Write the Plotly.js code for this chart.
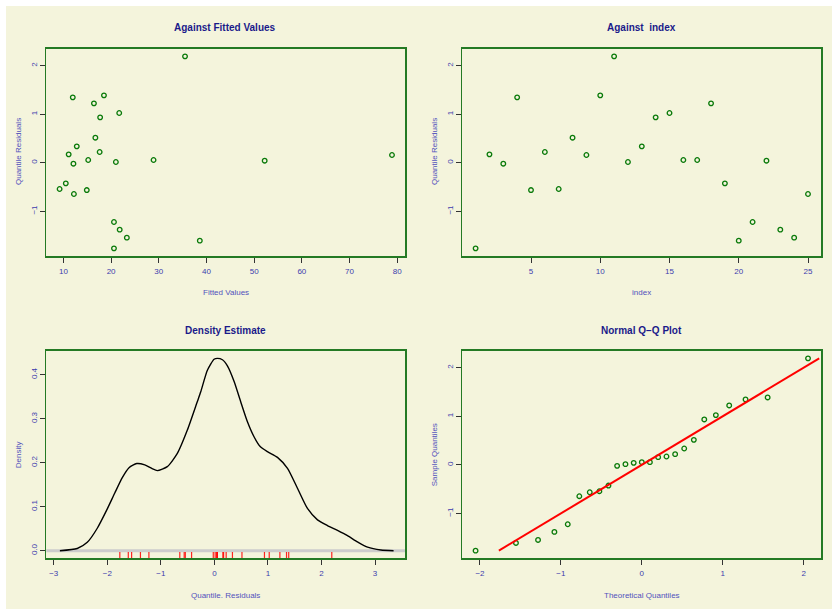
<!DOCTYPE html>
<html>
<head>
<meta charset="utf-8">
<script src="https://cdn.plot.ly/plotly-3.0.1.min.js"></script>
<style>html,body{margin:0;padding:0;background:#ffffff;}#chart{width:832px;height:609px;}</style>
</head>
<body>
<div id="chart"></div>
<script>
// Quantile residuals, in index order 1..25
const residuals = [-1.766, 0.172, -0.021, 1.347, -0.564, 0.220, -0.543, 0.515, 0.158, 1.388,
                   2.192, 0.014, 0.337, 0.935, 1.024, 0.055, 0.055, 1.223, -0.426, -1.608,
                   -1.223, 0.041, -1.381, -1.546, -0.646];
// Fitted values, in index order 1..25
const fitted = [20.6, 11.1, 12.1, 11.96, 14.9, 17.6, 9.2, 16.7, 78.9, 18.5,
                35.5, 21.0, 12.8, 17.7, 21.7, 15.2, 28.9, 16.4, 10.5, 38.6,
                20.6, 52.2, 21.8, 23.3, 12.2];
const index = Array.from({length: residuals.length}, (_, i) => i + 1);
// Theoretical normal quantiles
const theoQuant = [-2.054, -1.555, -1.282, -1.080, -0.915, -0.772, -0.643, -0.524, -0.412, -0.305,
                   -0.202, -0.100, 0.000, 0.100, 0.202, 0.305, 0.412, 0.524, 0.643, 0.772,
                   0.915, 1.080, 1.282, 1.555, 2.054];
const sampleQuant = residuals.slice().sort((a, b) => a - b);
// Density estimate curve
const densX = [-2.885, -2.561, -2.374, -2.187, -2.0, -1.860, -1.720, -1.590, -1.450, -1.300, -1.170, -1.065,
               -0.879, -0.692, -0.505, -0.318, -0.255, -0.131, -0.006, 0.056, 0.150, 0.243, 0.370, 0.490, 0.617, 0.740, 0.860,
               0.990, 1.178, 1.365, 1.551, 1.738, 1.925, 2.112, 2.299, 2.486, 2.673,
               2.860, 3.109, 3.346];
const densY = [0.0, 0.005, 0.019, 0.051, 0.095, 0.131, 0.166, 0.189, 0.198, 0.195, 0.187, 0.182,
               0.191, 0.221, 0.274, 0.339, 0.361, 0.410, 0.435, 0.437, 0.434, 0.420, 0.384, 0.339, 0.293, 0.259, 0.236,
               0.225, 0.212, 0.187, 0.142, 0.096, 0.070, 0.057, 0.046, 0.034, 0.020,
               0.008, 0.0015, 0.0];

const W = 832, H = 609;
const PX = p => p / W, PY = p => 1 - p / H;

const FONT = '"Liberation Sans Narrow", "Liberation Sans", Arial, sans-serif';
const tickCol = '#3c3cae';
const labCol = '#5252bd';
const titleCol = '#1a1a8a';
const boxCol = '#247a24';
const ptCol = '#0a7a0a';

const ptMarker = {symbol: 'circle-open', size: 4.6, color: ptCol, line: {width: 1.3, color: ptCol}};

// rug segments
const rugX = [], rugY = [];
residuals.forEach(r => { rugX.push(r, r, null); rugY.push(-0.0173, -0.003, null); });

const traces = [
  {x: fitted, y: residuals, xaxis: 'x', yaxis: 'y', mode: 'markers', type: 'scatter', marker: ptMarker, hoverinfo: 'none'},
  {x: index, y: residuals, xaxis: 'x2', yaxis: 'y2', mode: 'markers', type: 'scatter', marker: ptMarker, hoverinfo: 'none'},
  {x: densX, y: densY, xaxis: 'x3', yaxis: 'y3', mode: 'lines', type: 'scatter', line: {color: '#000000', width: 1.4, shape: 'spline', smoothing: 0.6}, hoverinfo: 'none'},
  {x: rugX, y: rugY, xaxis: 'x3', yaxis: 'y3', mode: 'lines', type: 'scatter', line: {color: 'rgba(255,0,0,0.85)', width: 1.2}, hoverinfo: 'none', cliponaxis: false},
  {x: theoQuant, y: sampleQuant, xaxis: 'x4', yaxis: 'y4', mode: 'markers', type: 'scatter', marker: ptMarker, hoverinfo: 'none'},
  {x: [sampleQuant[0], sampleQuant[sampleQuant.length - 1]], y: [sampleQuant[0], sampleQuant[sampleQuant.length - 1]], xaxis: 'x4', yaxis: 'y4', mode: 'lines', type: 'scatter', line: {color: '#ff0000', width: 2}, hoverinfo: 'none'}
];

function ax(domain, range, dtick, tick0, isY, extra) {
  return Object.assign({
    domain: domain, range: range, dtick: dtick, tick0: tick0, tickmode: 'linear',
    showgrid: false, zeroline: false, showline: true, mirror: true,
    linecolor: boxCol, linewidth: 1.5,
    ticks: 'outside', ticklen: 5, tickwidth: 1, tickcolor: '#333333',
    tickfont: {family: FONT, size: 8, color: tickCol},
    tickangle: isY ? -90 : 0,
    fixedrange: true
  }, extra || {});
}

const xL = [PX(46.3), PX(405.3)], xR = [PX(462.3), PX(821.3)];
const yT = [PY(256), PY(48.7)], yB = [PY(558.3), PY(350.7)];

const ann = (text, x, y, opts) => Object.assign({
  text: text, x: PX(x), y: PY(y), xref: 'paper', yref: 'paper', showarrow: false,
  xanchor: 'center', yanchor: 'middle',
  font: {family: FONT, size: 8, color: labCol}
}, opts || {});
const titleFont = {family: FONT, size: 10, color: titleCol, weight: 'bold'};

const layout = {
  width: W, height: H,
  margin: {l: 0, r: 0, t: 0, b: 0},
  paper_bgcolor: '#ffffff',
  plot_bgcolor: 'rgba(0,0,0,0)',
  showlegend: false,
  xaxis: ax(xL, [6.41, 81.69], 10, 10, false, {anchor: 'y', ticklabelstandoff: 2}),
  yaxis: ax(yT, [-1.924, 2.350], 1, 0, true, {anchor: 'x'}),
  xaxis2: ax(xR, [0.04, 25.96], 5, 0, false, {anchor: 'y2', ticklabelstandoff: 2}),
  yaxis2: ax(yT, [-1.924, 2.350], 1, 0, true, {anchor: 'x2'}),
  xaxis3: ax(xL, [-3.139, 3.565], 1, 0, false, {anchor: 'y3', ticklabelstandoff: 2}),
  yaxis3: ax(yB, [-0.0173, 0.4545], 0.1, 0, true, {anchor: 'x3', tickformat: '.1f'}),
  xaxis4: ax(xR, [-2.218, 2.218], 1, 0, false, {anchor: 'y4', ticklabelstandoff: 2}),
  yaxis4: ax(yB, [-1.924, 2.350], 1, 0, true, {anchor: 'x4'}),
  shapes: [
    {type: 'rect', xref: 'paper', yref: 'paper', x0: PX(6), x1: 1, y0: 0, y1: PY(6), fillcolor: '#f4f4dc', line: {width: 0}, layer: 'below'},
    {type: 'line', xref: 'x3 domain', yref: 'y3', x0: 0, x1: 1, y0: 0, y1: 0, line: {color: '#cccccc', width: 3}, layer: 'below'}
  ],
  annotations: [
    ann('Against Fitted Values', 225.3, 27.7, {font: titleFont}),
    ann('Against  index', 641.7, 27.7, {font: titleFont}),
    ann('Density Estimate', 225.3, 330.3, {font: titleFont}),
    ann('Normal Q\u2212Q Plot', 641.7, 330.3, {font: titleFont}),
    ann('Fitted Values', 225.8, 292),
    ann('index', 641.3, 292),
    ann('Quantile. Residuals', 225.3, 595),
    ann('Theoretical Quantiles', 641.7, 595),
    ann('Quantile Residuals', 18.3, 151.7, {textangle: -90}),
    ann('Quantile Residuals', 434.3, 151.7, {textangle: -90}),
    ann('Density', 18.3, 455, {textangle: -90}),
    ann('Sample Quantiles', 434.3, 455, {textangle: -90})
  ]
};

Plotly.newPlot('chart', traces, layout, {displayModeBar: false, staticPlot: true});
</script>
</body>
</html>
